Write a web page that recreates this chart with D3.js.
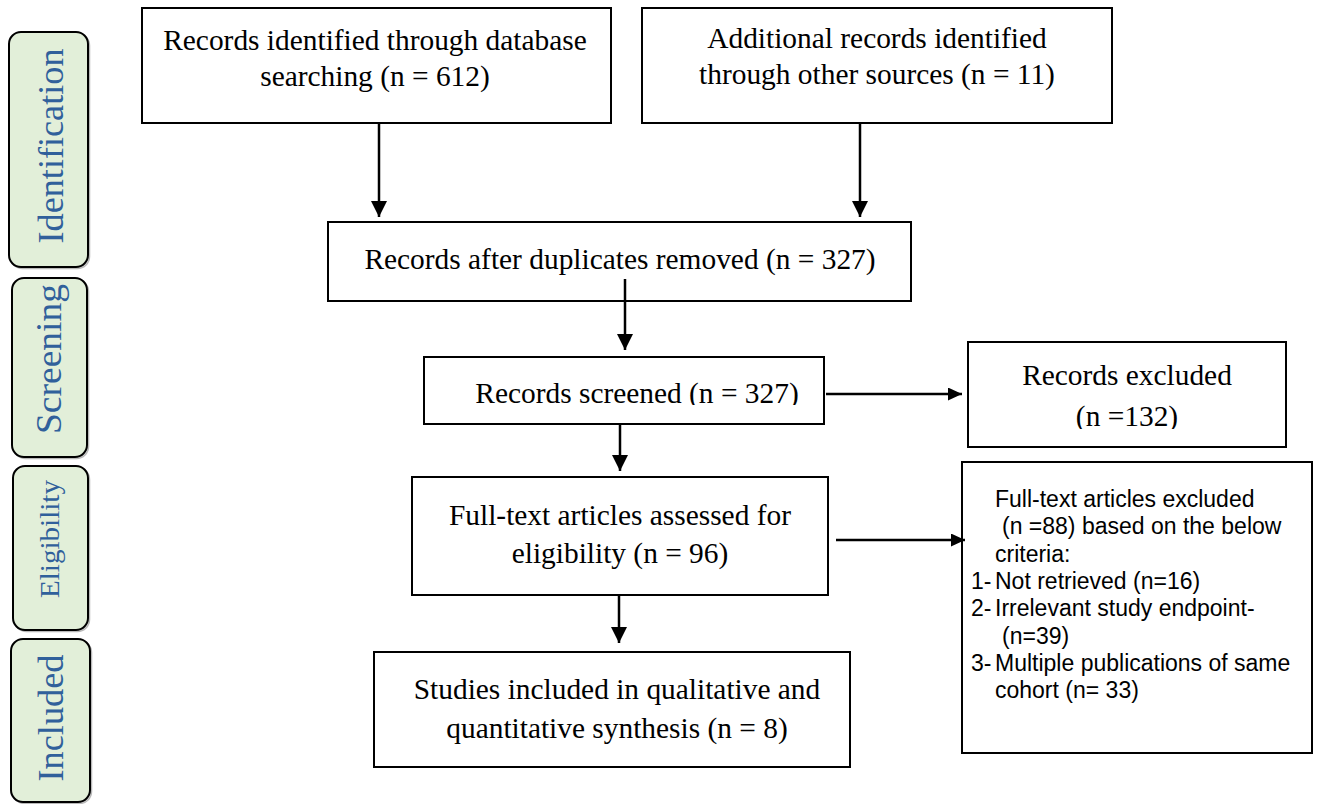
<!DOCTYPE html>
<html>
<head>
<meta charset="utf-8">
<script src="https://cdn.jsdelivr.net/npm/d3@7"></script>
<style>
html, body { margin: 0; padding: 0; background: #fff; }
svg { display: block; }
</style>
</head>
<body>
<div id="chart"></div>
<script>
const W = 1328, H = 804;

// data
const stages = ["Identification", "Screening", "Eligibility", "Included"];
const flowSteps = ["database", "other", "deduplicated", "screened", "excluded", "assessed", "ftExcluded", "included"];
const flowCounts = [612, 11, 327, 327, 132, 96, 88, 8];
const reasonLabels = ["Not retrieved", "Irrelevant study endpoint-", "Multiple publications of same"];
const reasonTails = ["", "", "cohort"];
const reasonCounts = [16, 39, 33];

const n = k => flowCounts[flowSteps.indexOf(k)];

const SERIF = "'Liberation Serif', 'Times New Roman', serif";
const SANS = "'Liberation Sans', Arial, sans-serif";

const svg = d3.select("#chart").append("svg")
  .attr("width", W).attr("height", H)
  .style("background", "#fff");

const defs = svg.append("defs");
function addMarker(id, len, wid) {
  defs.append("marker")
    .attr("id", id)
    .attr("viewBox", "0 0 10 10")
    .attr("refX", 10).attr("refY", 5)
    .attr("markerWidth", len).attr("markerHeight", wid)
    .attr("markerUnits", "userSpaceOnUse")
    .attr("orient", "auto")
    .attr("preserveAspectRatio", "none")
    .append("path").attr("d", "M0,0L10,5L0,10Z").attr("fill", "#000");
}
addMarker("arrowV", 16, 16);
addMarker("arrowH", 14, 13);

// stage side labels
const stageLayout = [
  { x: 9,  y: 32,  w: 79, h: 235, tx: 63, ty: 146, len: 195, size: 36 },
  { x: 12, y: 278, w: 75, h: 179, tx: 61, ty: 359, len: 150, size: 35 },
  { x: 13, y: 466, w: 75, h: 164, tx: 59, ty: 539, len: 118, size: 27 },
  { x: 11, y: 639, w: 79, h: 163, tx: 63, ty: 718, len: 127, size: 36 }
];

const stageG = svg.append("g").selectAll("g")
  .data(stages)
  .join("g");

stageG.append("rect")
  .attr("x", (d, i) => stageLayout[i].x + 1.5)
  .attr("y", (d, i) => stageLayout[i].y + 1.5)
  .attr("width", (d, i) => stageLayout[i].w)
  .attr("height", (d, i) => stageLayout[i].h)
  .attr("rx", 12)
  .attr("fill", "none")
  .attr("stroke", "#b8b8b8")
  .attr("stroke-width", 1.5);

stageG.append("rect")
  .attr("x", (d, i) => stageLayout[i].x)
  .attr("y", (d, i) => stageLayout[i].y)
  .attr("width", (d, i) => stageLayout[i].w)
  .attr("height", (d, i) => stageLayout[i].h)
  .attr("rx", 12)
  .attr("fill", "#e2efd9")
  .attr("stroke", "#000")
  .attr("stroke-width", 2);

stageG.append("text")
  .attr("transform", (d, i) => `translate(${stageLayout[i].tx},${stageLayout[i].ty}) rotate(-90)`)
  .attr("text-anchor", "middle")
  .attr("textLength", (d, i) => stageLayout[i].len)
  .attr("lengthAdjust", "spacingAndGlyphs")
  .attr("font-family", SERIF)
  .attr("font-size", (d, i) => stageLayout[i].size)
  .attr("fill", "#30609b")
  .text(d => d);

// flow boxes
const boxes = [
  { x1: 142, y1: 8, x2: 611, y2: 123, cx: 375, base: [50, 86],
    lines: ["Records identified through database", `searching (n = ${n("database")})`] },
  { x1: 642, y1: 8, x2: 1112, y2: 123, cx: 877, base: [48, 84],
    lines: ["Additional records identified", `through other sources (n = ${n("other")})`] },
  { x1: 328, y1: 222, x2: 911, y2: 301, cx: 620, base: [269],
    lines: [`Records after duplicates removed (n = ${n("deduplicated")})`] },
  { x1: 424, y1: 357, x2: 824, y2: 424, cx: 637, base: [403], clipY: 405,
    lines: [`Records screened (n = ${n("screened")})`] },
  { x1: 968, y1: 342, x2: 1286, y2: 447, cx: 1127, base: [385, 426], clipY: 429,
    lines: ["Records excluded", `(n =${n("excluded")})`] },
  { x1: 412, y1: 477, x2: 828, y2: 595, cx: 620, base: [525, 563],
    lines: ["Full-text articles assessed for", `eligibility (n = ${n("assessed")})`] },
  { x1: 374, y1: 652, x2: 850, y2: 767, cx: 617, base: [699, 738],
    lines: ["Studies included in qualitative and", `quantitative synthesis (n = ${n("included")})`] }
];

const boxG = svg.append("g").selectAll("g")
  .data(boxes)
  .join("g");

boxG.append("rect")
  .attr("x", d => d.x1).attr("y", d => d.y1)
  .attr("width", d => d.x2 - d.x1).attr("height", d => d.y2 - d.y1)
  .attr("fill", "#fff").attr("stroke", "#000").attr("stroke-width", 2);

boxes.forEach((b, i) => {
  if (b.clipY) {
    defs.append("clipPath").attr("id", "clip" + i)
      .append("rect").attr("x", b.x1).attr("y", b.y1).attr("width", b.x2 - b.x1).attr("height", b.clipY - b.y1);
  }
});

boxG.each(function(b, i) {
  d3.select(this).append("g")
    .attr("clip-path", b.clipY ? `url(#clip${i})` : null)
    .selectAll("text")
    .data(b.lines)
    .join("text")
    .attr("x", b.cx)
    .attr("y", (d, j) => b.base[j])
    .attr("text-anchor", "middle")
    .attr("font-family", SERIF)
    .attr("font-size", 29.4)
    .attr("fill", "#000")
    .text(d => d);
});

// full-text exclusion box
const ftBox = { x1: 962, y1: 462, x2: 1312, y2: 753 };
svg.append("rect")
  .attr("x", ftBox.x1).attr("y", ftBox.y1)
  .attr("width", ftBox.x2 - ftBox.x1).attr("height", ftBox.y2 - ftBox.y1)
  .attr("fill", "#fff").attr("stroke", "#000").attr("stroke-width", 2);

const ftLines = [
  { x: 995, t: "Full-text articles excluded" },
  { x: 1002, t: `(n =${n("ftExcluded")}) based on the below` },
  { x: 995, t: "criteria:" }
];
reasonLabels.forEach((r, i) => {
  if (i === 0) {
    ftLines.push({ x: 995, num: `${i + 1}-`, t: `${r} (n=${reasonCounts[i]})` });
  } else if (i === 1) {
    ftLines.push({ x: 995, num: `${i + 1}-`, t: r });
    ftLines.push({ x: 1002, t: `(n=${reasonCounts[i]})` });
  } else {
    ftLines.push({ x: 995, num: `${i + 1}-`, t: r });
    ftLines.push({ x: 995, t: `${reasonTails[i]} (n= ${reasonCounts[i]})` });
  }
});

const ftText = svg.append("g")
  .attr("font-family", SANS)
  .attr("font-size", 23)
  .attr("fill", "#000");

ftText.selectAll("text.line")
  .data(ftLines)
  .join("text")
  .attr("class", "line")
  .attr("x", d => d.x)
  .attr("y", (d, j) => 507 + j * 27.3)
  .text(d => d.t);

ftText.selectAll("text.num")
  .data(ftLines.map((d, j) => ({ ...d, j })).filter(d => d.num))
  .join("text")
  .attr("class", "num")
  .attr("x", 971)
  .attr("y", d => 507 + d.j * 27.3)
  .text(d => d.num);

// arrows
const arrows = [
  { x1: 379, y1: 123, x2: 379, y2: 217, m: "arrowV" },
  { x1: 860, y1: 123, x2: 860, y2: 217, m: "arrowV" },
  { x1: 625, y1: 279, x2: 625, y2: 350, m: "arrowV" },
  { x1: 826, y1: 394, x2: 962, y2: 394, m: "arrowH" },
  { x1: 620, y1: 424, x2: 620, y2: 471, m: "arrowV" },
  { x1: 836, y1: 540, x2: 965, y2: 540, m: "arrowH" },
  { x1: 619, y1: 595, x2: 619, y2: 643, m: "arrowV" }
];

svg.append("g").selectAll("line")
  .data(arrows)
  .join("line")
  .attr("x1", d => d.x1).attr("y1", d => d.y1)
  .attr("x2", d => d.x2).attr("y2", d => d.y2)
  .attr("stroke", "#000")
  .attr("stroke-width", 2.5)
  .attr("marker-end", d => `url(#${d.m})`);
</script>
</body>
</html>
